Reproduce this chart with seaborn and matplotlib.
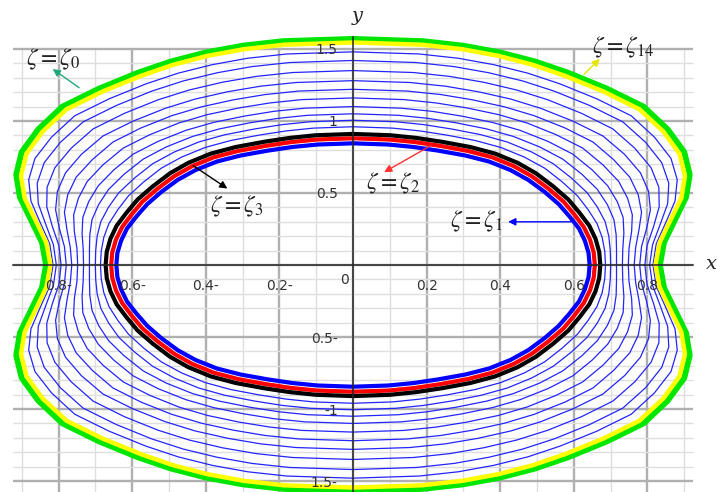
import numpy as np
import pandas as pd
import matplotlib
matplotlib.use("Agg")
import matplotlib.pyplot as plt
import seaborn as sns

t_frac = [0, 0.1, 0.2, 0.3, 0.4, 0.5, 0.6, 0.7, 0.78, 0.85, 0.9, 0.94, 0.97, 0.99, 1.0]

curve_names = ["zeta1", "zeta2", "zeta3",
               "zeta4", "zeta5", "zeta6", "zeta7", "zeta8",
               "zeta9", "zeta10", "zeta11", "zeta12", "zeta13",
               "zeta14", "zeta0"]

# height of each curve on the y axis
curve_height = [0.845, 0.88, 0.91,
                0.96, 1.005, 1.05, 1.10, 1.16,
                1.22, 1.28, 1.35, 1.42, 1.48,
                1.545, 1.57]

# x of each curve at the t_frac levels
curve_x = [
    [0.643, 0.640, 0.630, 0.614, 0.588, 0.559, 0.521, 0.476, 0.428, 0.370, 0.305, 0.231, 0.164, 0.096, 0],
    [0.657, 0.654, 0.644, 0.627, 0.601, 0.572, 0.532, 0.486, 0.437, 0.378, 0.312, 0.237, 0.168, 0.099, 0],
    [0.672, 0.669, 0.659, 0.642, 0.615, 0.585, 0.544, 0.497, 0.447, 0.386, 0.319, 0.242, 0.171, 0.101, 0],
    [0.686, 0.684, 0.677, 0.663, 0.639, 0.610, 0.569, 0.521, 0.466, 0.402, 0.333, 0.254, 0.181, 0.108, 0],
    [0.700, 0.699, 0.695, 0.685, 0.664, 0.636, 0.594, 0.544, 0.486, 0.419, 0.348, 0.267, 0.192, 0.115, 0],
    [0.716, 0.716, 0.715, 0.709, 0.691, 0.664, 0.622, 0.570, 0.508, 0.436, 0.363, 0.281, 0.203, 0.123, 0],
    [0.732, 0.733, 0.736, 0.734, 0.718, 0.692, 0.650, 0.597, 0.530, 0.454, 0.379, 0.295, 0.215, 0.131, 0],
    [0.748, 0.750, 0.757, 0.759, 0.746, 0.722, 0.679, 0.624, 0.552, 0.473, 0.396, 0.310, 0.226, 0.139, 0],
    [0.764, 0.768, 0.777, 0.784, 0.775, 0.752, 0.708, 0.652, 0.576, 0.492, 0.412, 0.325, 0.239, 0.147, 0],
    [0.779, 0.784, 0.798, 0.808, 0.803, 0.781, 0.738, 0.679, 0.598, 0.510, 0.429, 0.340, 0.251, 0.155, 0],
    [0.793, 0.799, 0.817, 0.832, 0.831, 0.810, 0.766, 0.706, 0.621, 0.529, 0.445, 0.355, 0.263, 0.164, 0],
    [0.806, 0.814, 0.835, 0.855, 0.858, 0.839, 0.795, 0.733, 0.643, 0.547, 0.461, 0.369, 0.275, 0.172, 0],
    [0.815, 0.824, 0.850, 0.875, 0.881, 0.864, 0.819, 0.756, 0.662, 0.562, 0.475, 0.382, 0.286, 0.180, 0],
    [0.822, 0.833, 0.862, 0.892, 0.902, 0.887, 0.843, 0.778, 0.680, 0.576, 0.488, 0.395, 0.296, 0.187, 0],
    [0.834, 0.845, 0.875, 0.905, 0.915, 0.900, 0.855, 0.790, 0.690, 0.585, 0.495, 0.400, 0.300, 0.190, 0],
]

curve_color = (["#0000ff", "#ff0000", "#000000"] + ["#2424ff"] * 10
               + ["#ffff00", "#00e600"])
curve_lw = [3.0, 3.0, 3.0] + [0.9] * 10 + [3.2, 4.2]

xtick_pos = [-0.8, -0.6, -0.4, -0.2, 0.2, 0.4, 0.6, 0.8]
xtick_lab = ["0.8-", "0.6-", "0.4-", "0.2-", "0.2", "0.4", "0.6", "0.8"]
ytick_pos = [-1.5, -1.0, -0.5, 0.5, 1.0, 1.5]
ytick_lab = ["1.5-", "-1", "0.5-", "0.5", "1", "1.5"]


def closed_loop(xq, yq):
    xq = np.asarray(xq)
    yq = np.asarray(yq)
    x = np.concatenate([xq, -xq[::-1], -xq, xq[::-1]])
    y = np.concatenate([yq, yq[::-1], -yq, -yq[::-1]])
    return pd.DataFrame({"x": x, "y": y})


sns.set_style("white")
plt.rcParams["mathtext.fontset"] = "stix"

fig = plt.figure(figsize=(7.17, 4.92), dpi=100)
ax = fig.add_axes([0, 0, 1, 1])
ax.set_xlim(-0.959, 0.989)
ax.set_ylim(-1.576, 1.840)

# grid (limited box like the original)
gx = np.round(np.arange(-0.9, 0.91, 0.1), 2)
gy = np.round(np.arange(-1.6, 1.51, 0.1), 2)
for v in gx:
    major = abs(round(v / 0.2) * 0.2 - v) < 1e-6
    ax.vlines(v, -1.6, 1.5, color="#b0b0b0" if major else "#dedede",
              lw=1.7 if major else 1.0, zorder=0)
for v in gy:
    major = abs(round(v / 0.5) * 0.5 - v) < 1e-6
    ax.hlines(v, -0.925, 0.925, color="#b0b0b0" if major else "#dedede",
              lw=1.7 if major else 1.0, zorder=0)

# curves, thin ones first, outer green before yellow
order = list(range(3, 13)) + [0, 1, 2, 14, 13]
for i in order:
    yq = [t * curve_height[i] for t in t_frac]
    df = closed_loop(curve_x[i], yq)
    sns.lineplot(data=df, x="x", y="y", sort=False, estimator=None,
                 color=curve_color[i], linewidth=curve_lw[i], ax=ax, zorder=3)

# axes through origin
for s in ["top", "right"]:
    ax.spines[s].set_visible(False)
ax.spines["bottom"].set_position(("data", 0))
ax.spines["left"].set_position(("data", 0))
ax.spines["bottom"].set_bounds(-0.925, 0.925)
ax.spines["left"].set_bounds(-1.6, 1.58)
ax.spines["bottom"].set_zorder(5)
ax.spines["left"].set_zorder(5)
ax.spines["bottom"].set_linewidth(1.1)
ax.spines["left"].set_linewidth(1.1)
ax.xaxis.set_zorder(5)
ax.yaxis.set_zorder(5)

ax.set_xticks(xtick_pos)
ax.set_xticklabels(xtick_lab)
ax.set_yticks(ytick_pos)
ax.set_yticklabels(ytick_lab)
ax.set_xticks(np.round(np.arange(-0.9, 0.91, 0.1), 2), minor=True)
ax.set_yticks(np.round(np.arange(-1.5, 1.51, 0.1), 2), minor=True)
ax.tick_params(axis="both", which="both", direction="out", length=4,
               width=1, color="black", labelsize=10, labelcolor="#333333")
ax.tick_params(axis="x", which="major", pad=6)
ax.tick_params(axis="y", which="major", pad=7)
ax.set_xlabel("")
ax.set_ylabel("")
ax.text(-0.024, -0.105, "0", fontsize=10, color="#333333",
        ha="center", va="center")

ax.text(0.973, 0.01, "x", fontsize=14, style="italic", family="DejaVu Serif",
        ha="center", va="center")
ax.text(0.011, 1.73, "y", fontsize=14, style="italic", family="DejaVu Serif",
        ha="center", va="center")

# labels with arrows
notes = [
    (r"$\zeta = \zeta_0$", (-0.815, 1.43), (-0.822, 1.372), (-0.738, 1.22), "#22a878"),
    (r"$\zeta = \zeta_{14}$", (0.735, 1.51), (0.676, 1.445), (0.622, 1.31), "#e6e600"),
    (r"$\zeta = \zeta_2$", (0.108, 0.57), (0.078, 0.635), (0.219, 0.84), "#ff3030"),
    (r"$\zeta = \zeta_3$", (-0.316, 0.41), (-0.335, 0.52), (-0.44, 0.70), "#000000"),
    (r"$\zeta = \zeta_1$", (0.335, 0.30), (0.414, 0.30), (0.60, 0.30), "#0000ff"),
]
for txt, tpos, head, tail, col in notes:
    ax.text(tpos[0], tpos[1], txt, fontsize=17, ha="center", va="center",
            color="#222222", zorder=6)
    ax.annotate("", xy=head, xytext=tail,
                arrowprops=dict(arrowstyle="-|>", color=col, lw=1.0,
                                mutation_scale=11), zorder=6)

fig.savefig("out.png", dpi=100)
plt.close(fig)
